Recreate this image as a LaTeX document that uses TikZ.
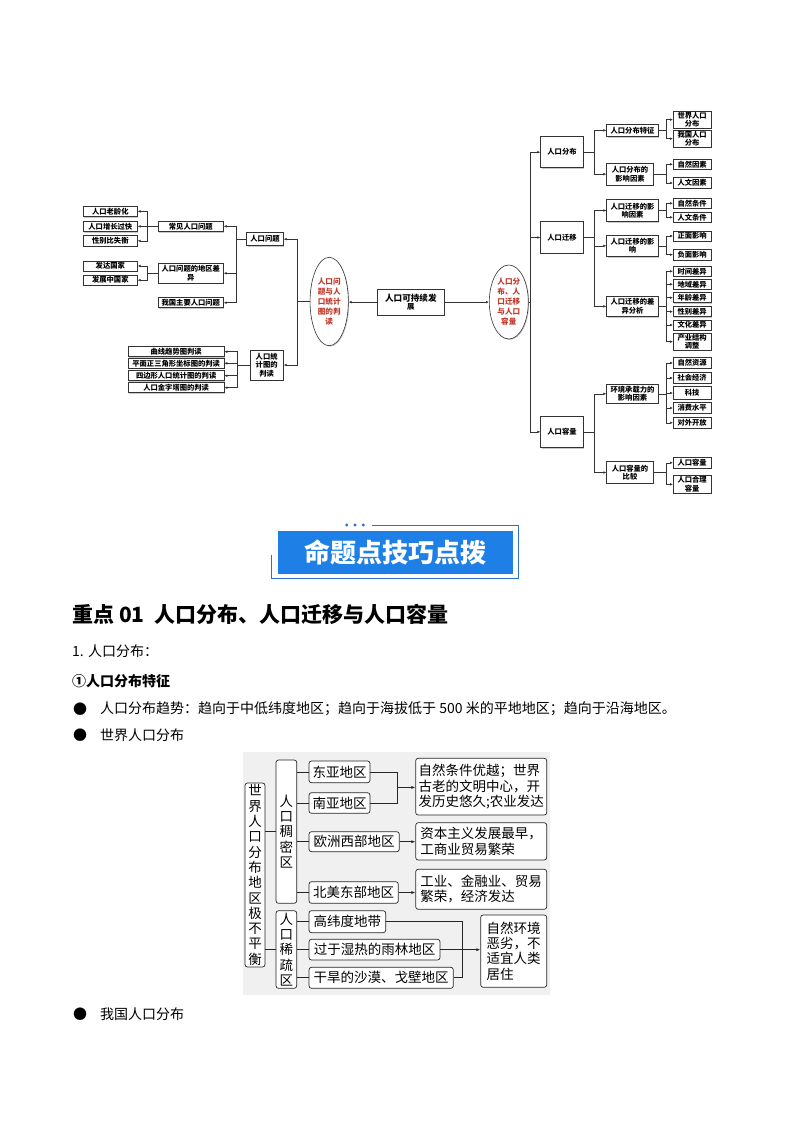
\documentclass[tikz,border=0pt]{standalone}
\usepackage{fontspec}
\setmainfont{Noto Sans CJK SC}
\usetikzlibrary{arrows.meta,calc,shapes.geometric,shadows}
\definecolor{mapred}{HTML}{C0392B}
\definecolor{bannerblue}{HTML}{1E80E6}
\definecolor{bannerline}{HTML}{2B72C8}
\definecolor{panelgray}{HTML}{F0F0F0}

% box from corner (x1,y1) to corner (x2,y2)
\newcommand{\bx}[7][mbox]{%
  \node[#1, minimum width={(#5-#3)*1pt}, minimum height={(#6-#4)*1pt}]
    (#2) at ({(#3+#5)/2},{(#4+#6)/2}) {#7};}
% forks of the mind map
\newcommand{\forkr}[3]{\draw[arr] (#1.east) -- ($(#2.west |- #1.east)+(-#3,0)$) |- (#2.west);}
\newcommand{\forkl}[3]{\draw[arr] (#1.west) -- ($(#2.east |- #1.west)+(#3,0)$) |- (#2.east);}

\tikzset{
  mbox/.style={draw=black!80, fill=white, line width=0.6pt, inner sep=0pt,
    align=center, font=\bfseries\fontsize{7.3}{8.3}\selectfont,
    drop shadow={shadow xshift=0.9pt, shadow yshift=-0.9pt, fill=black!35, opacity=0.6}},
  oval/.style={ellipse, draw=black!80, fill=white, line width=0.6pt, inner sep=0pt,
    align=center, text=mapred, font=\bfseries\fontsize{7.6}{10}\selectfont,
    drop shadow={shadow xshift=0.9pt, shadow yshift=-0.9pt, fill=black!35, opacity=0.6}},
  arr/.style={draw=black!80, line width=0.6pt, -{Latex[length=3pt,width=2.6pt]}},
  rbox/.style={draw=black!85, fill=white, rounded corners=2.5pt, line width=0.7pt,
    inner sep=0pt, align=center, font=\fontsize{13.5}{15.3}\selectfont},
  tbox/.style={rbox, align=left},
  link/.style={draw=black!85, line width=0.7pt},
  barr/.style={link, -{Latex[length=4pt,width=3pt]}},
  txt/.style={anchor=west, inner sep=0pt, font=\fontsize{14}{16}\selectfont}
}

\begin{document}
\begin{tikzpicture}[x=1pt,y=-1pt]
\useasboundingbox[fill=white] (0,0) rectangle (794,1123);

% ---- mind map: centre
\bx{root}{377.7}{289.3}{444}{315}{\fontsize{8.6}{10.5}\selectfont 人口可持续发\\展}
\node[oval, minimum width=38.3, minimum height=88.4] (el) at (329.2,301.5)
  {人口问\\题与人\\口统计\\图的判\\读};
\node[oval, minimum width=39, minimum height=74] (er) at (508.8,302)
  {人口分\\布、人\\口迁移\\与人口\\容量};
\draw[arr] (root.west) -- (el.east |- root.west);
\draw[arr] (root.east) -- (er.west |- root.east);

% ---- left half
\bx{prob}{246.7}{232.7}{283.3}{245.7}{人口问题}
\bx{stat}{250}{350}{283.3}{380}{人口统\\计图的\\判读}
\bx{common}{158.3}{221}{223.3}{231.7}{常见人口问题}
\bx{region}{158.3}{263.3}{223.3}{283.3}{人口问题的地区差\\异}
\bx{china}{158.3}{297.7}{223.3}{307.7}{我国主要人口问题}
\bx{old}{83.3}{206}{137.3}{216.7}{人口老龄化}
\bx{fast}{83.3}{221}{137.3}{231.7}{人口增长过快}
\bx{sex}{83.3}{235.7}{137.3}{246}{性别比失衡}
\bx{rich}{83.3}{261}{137.3}{271}{发达国家}
\bx{poor}{83.3}{275}{137.3}{285.3}{发展中国家}
\bx{curve}{128.3}{346.7}{224}{356.7}{曲线趋势图判读}
\bx{tri}{128.3}{358.3}{224}{368.3}{平面正三角形坐标图的判读}
\bx{quad}{128.3}{370.7}{224}{380.7}{四边形人口统计图的判读}
\bx{pyr}{128.3}{382.7}{224}{392.7}{人口金字塔图的判读}

\forkl{el}{prob}{13.4}
\forkl{el}{stat}{13.4}
\foreach \c in {common,region,china} {\forkl{prob}{\c}{12.7}}
\foreach \c in {old,fast,sex} {\forkl{common}{\c}{9.4}}
\foreach \c in {rich,poor} {\forkl{region}{\c}{9.4}}
\foreach \c in {curve,tri,quad,pyr} {\forkl{stat}{\c}{13.3}}

% ---- right half
\bx{dist}{540.7}{136.7}{583.3}{167.7}{人口分布}
\bx{mig}{540.7}{221.7}{583.3}{253.3}{人口迁移}
\bx{cap}{540.7}{416}{583.3}{447.7}{人口容量}
\bx{dfeat}{606.7}{124}{658.3}{136.7}{人口分布特征}
\bx{dfac}{606.7}{163.3}{653.3}{185}{人口分布的\\影响因素}
\bx{mfac}{606.7}{199.3}{658.3}{221.7}{人口迁移的影\\响因素}
\bx{meff}{606.7}{235}{658.3}{256.7}{人口迁移的影\\响}
\bx{mdiff}{606.7}{296}{658.3}{316.7}{人口迁移的差\\异分析}
\bx{cenv}{606.7}{384.3}{658.3}{403.3}{环境承载力的\\影响因素}
\bx{ccmp}{606.7}{461.7}{653.3}{483.3}{人口容量的\\比较}
\bx{world}{673.3}{111}{711}{128.3}{世界人口\\分布}
\bx{ours}{673.3}{130}{711}{147.3}{我国人口\\分布}
\bx{nat}{673.3}{159.3}{711}{169.3}{自然因素}
\bx{hum}{673.3}{177.7}{711}{188.3}{人文因素}
\bx{mnat}{673.3}{198.3}{711}{208.3}{自然条件}
\bx{mhum}{673.3}{212.3}{711}{222.3}{人文条件}
\bx{pos}{673.3}{231}{711}{241}{正面影响}
\bx{neg}{673.3}{249.3}{711}{260}{负面影响}
\bx{dt}{673.3}{266.3}{711}{276.3}{时间差异}
\bx{dr}{673.3}{279.3}{711}{289.3}{地域差异}
\bx{da}{673.3}{292.7}{711}{302.7}{年龄差异}
\bx{dg}{673.3}{306.7}{711}{316.7}{性别差异}
\bx{dc}{673.3}{320}{711}{330}{文化差异}
\bx{di}{673.3}{333.3}{711}{350}{产业结构\\调整}
\bx{res}{673.3}{357.7}{711}{368.3}{自然资源}
\bx{soc}{673.3}{372.7}{711}{383.3}{社会经济}
\bx{tec}{673.3}{386.7}{711}{399.3}{科技}
\bx{use}{673.3}{402.7}{711}{413.3}{消费水平}
\bx{open}{673.3}{417.3}{711}{428.3}{对外开放}
\bx{kcap}{673.3}{457.3}{711}{468.3}{人口容量}
\bx{kfit}{673.3}{475.3}{711}{493.3}{人口合理\\容量}

\foreach \c in {dist,mig,cap} {\forkr{er}{\c}{10}}
\foreach \c in {dfeat,dfac} {\forkr{dist}{\c}{11.7}}
\foreach \c in {mfac,meff,mdiff} {\forkr{mig}{\c}{11.7}}
\foreach \c in {cenv,ccmp} {\forkr{cap}{\c}{11.7}}
\foreach \c in {world,ours} {\forkr{dfeat}{\c}{6.6}}
\foreach \c in {nat,hum} {\forkr{dfac}{\c}{6.6}}
\foreach \c in {mnat,mhum} {\forkr{mfac}{\c}{6.6}}
\foreach \c in {pos,neg} {\forkr{meff}{\c}{6.6}}
\foreach \c in {dt,dr,da,dg,dc,di} {\forkr{mdiff}{\c}{6.6}}
\foreach \c in {res,soc,tec,use,open} {\forkr{cenv}{\c}{6.6}}
\foreach \c in {kcap,kfit} {\forkr{ccmp}{\c}{6.6}}

% ---- banner
\node[fill=bannerblue, minimum width=235, minimum height=43.3, inner sep=0pt,
  text=white, font=\bfseries\fontsize{26}{26}\selectfont] (banner) at (395.8,552.7) {命题点技巧点拨};
\draw[bannerline, line width=1pt] (371.7,525) -- (518.3,525) -- (518.3,578.3)
  -- (271.7,578.3) -- (271.7,555);
\foreach \x in {346.7,355,363.3} \fill[bannerline] (\x,525) circle (1.6);

% ---- page text
\node[txt, font=\bfseries\fontsize{21}{23}\selectfont] (head) at (72,614)
  {重点 01\ \ 人口分布、人口迁移与人口容量};
\node[txt] (sec) at (72,651) {1. 人口分布：};
\node[txt, font=\bfseries\fontsize{14}{16}\selectfont] (sub) at (72,681) {①人口分布特征};
\node[txt] (b1) at (73,709) {●};
\node[txt] (l1) at (100,709) {人口分布趋势：趋向于中低纬度地区；趋向于海拔低于 500 米的平地地区；趋向于沿海地区。};
\node[txt] (b2) at (73,735) {●};
\node[txt] (l2) at (100,735) {世界人口分布};
\node[txt] (b3) at (73,1014) {●};
\node[txt] (l3) at (100,1014) {我国人口分布};

% ---- world population panel
\fill[panelgray] (243,752) rectangle (550,995);
\bx[rbox]{wld}{245}{783}{265}{967}{世\\界\\人\\口\\分\\布\\地\\区\\极\\不\\平\\衡}
\bx[rbox]{dense}{276}{760}{296.7}{903.3}{\fontsize{13.5}{15}\selectfont 人\\口\\稠\\密\\区}
\bx[rbox]{sparse}{276}{910.7}{296.7}{988.3}{\fontsize{13.5}{14}\selectfont 人\\口\\稀\\疏\\区}
\bx[rbox]{ea}{309}{761}{370}{782.7}{东亚地区}
\bx[rbox]{sa}{309}{792.7}{370}{813.3}{南亚地区}
\bx[rbox]{eu}{309}{831.7}{399.3}{851.7}{欧洲西部地区}
\bx[rbox]{na}{309}{881.7}{398.3}{903.3}{北美东部地区}
\bx[rbox]{hl}{309}{910.7}{385.7}{932.7}{高纬度地带}
\bx[rbox]{rf}{309}{939.3}{440}{960}{过于湿热的雨林地区}
\bx[rbox]{ds}{309}{967.3}{453.3}{988.3}{干旱的沙漠、戈壁地区}
\bx[tbox]{t1}{415.7}{758.3}{546.7}{815}{\fontsize{13.5}{18.3}\selectfont 自然条件优越；世界\\古老的文明中心，开\\发历史悠久;农业发达}
\bx[tbox]{t2}{415.7}{822.7}{546.7}{860}{\fontsize{13.5}{16.7}\selectfont 资本主义发展最早，\\工商业贸易繁荣}
\bx[tbox]{t3}{415.7}{869.3}{546.7}{909.3}{\fontsize{13.5}{16.7}\selectfont 工业、金融业、贸易\\繁荣，经济发达}
\bx[tbox]{t4}{480.7}{915}{546.7}{987.3}{\fontsize{13.5}{17.8}\selectfont 自然环境\\恶劣，不\\适宜人类\\居住}

\draw[link] (dense.west -| wld.east) -- (dense.west);
\draw[link] (sparse.west -| wld.east) -- (sparse.west);
\foreach \c in {ea,sa,eu,na} {\draw[link] (dense.east |- \c.west) -- (\c.west);}
\foreach \c in {hl,rf,ds} {\draw[link] (sparse.east |- \c.west) -- (\c.west);}
\draw[link] (ea.east) -- ++(26.7,0) |- (sa.east);
\coordinate (j1) at ($(ea.east)!0.5!(sa.east)+(26.7,0)$);
\draw[barr] (j1) -- (j1 -| t1.west);
\draw[barr] (eu.east) -- (eu.east -| t2.west);
\draw[barr] (na.east) -- (na.east -| t3.west);
\coordinate (j2) at (462.7,949.7);
\draw[link] (hl.east) -| (j2) |- (ds.east);
\draw[barr] (rf.east) -- (rf.east -| t4.west);
\end{tikzpicture}
\end{document}
